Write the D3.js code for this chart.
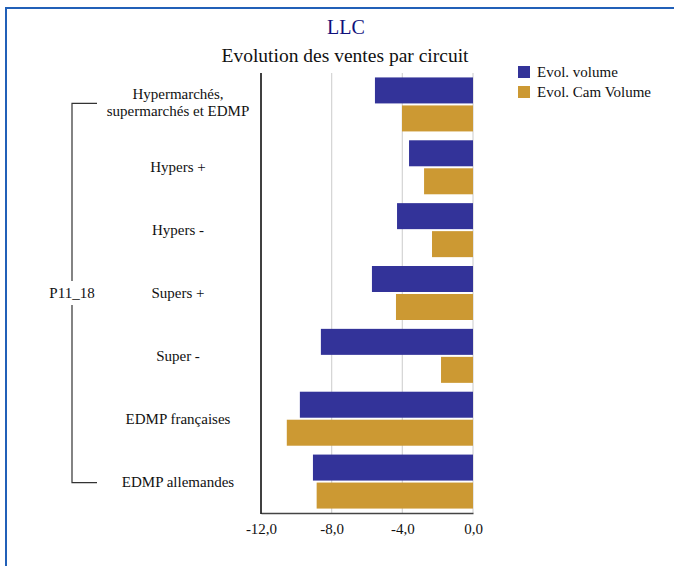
<!DOCTYPE html>
<html>
<head>
<meta charset="utf-8">
<script src="https://cdn.jsdelivr.net/npm/d3@7"></script>
<style>
  body { margin: 0; background: #fff; }
  svg { display: block; }
</style>
</head>
<body>
<div id="chart"></div>
<script>
// données
var categories = [
  ["Hypermarchés,", "supermarchés et EDMP"],
  ["Hypers +"],
  ["Hypers -"],
  ["Supers +"],
  ["Super -"],
  ["EDMP françaises"],
  ["EDMP allemandes"]
];
var seriesNames = ["Evol. volume", "Evol. Cam Volume"];
var evolVolume    = [-5.55, -3.62, -4.30, -5.72, -8.61, -9.80, -9.06];
var evolCamVolume = [-4.02, -2.77, -2.32, -4.36, -1.81, -10.54, -8.85];
var xTicks = [-12, -8, -4, 0];
var groupLabel = "P11_18";

var width = 674, height = 566;
var colors = ["#333399", "#CC9933"];
var font = "'Liberation Serif', 'Times New Roman', serif";

var svg = d3.select("#chart").append("svg")
  .attr("width", width)
  .attr("height", height)
  .style("font-family", font);

// cadre
svg.append("rect")
  .attr("x", 6).attr("y", 8)
  .attr("width", width + 20).attr("height", height + 20)
  .attr("fill", "none")
  .attr("stroke", "#2160b8")
  .attr("stroke-width", 2);

var pLeft = 261, pRight = 473, pTop = 73, pBottom = 513;

var x = d3.scaleLinear().domain([-12, 0]).range([pLeft, pRight]);
var y = d3.scaleBand().domain(d3.range(categories.length)).range([pTop, pBottom]);

var barH = 26, gap = 2;
var off = (y.bandwidth() - (barH * 2 + gap)) / 2;

// titres
svg.append("text")
  .attr("x", 346).attr("y", 34)
  .attr("text-anchor", "middle")
  .attr("font-size", 20)
  .attr("fill", "#10107a")
  .text("LLC");

svg.append("text")
  .attr("x", 345).attr("y", 62)
  .attr("text-anchor", "middle")
  .attr("font-size", 19.5)
  .attr("fill", "#111")
  .text("Evolution des ventes par circuit");

// grille
svg.append("g")
  .selectAll("line")
  .data(xTicks.slice(1))
  .enter()
  .append("line")
  .attr("x1", function(d) { return x(d); })
  .attr("x2", function(d) { return x(d); })
  .attr("y1", pTop)
  .attr("y2", pBottom)
  .attr("stroke", "#d4d4d4")
  .attr("stroke-width", 1.2);

// barres
var series = [evolVolume, evolCamVolume];
series.forEach(function(vals, s) {
  svg.append("g")
    .selectAll("rect")
    .data(vals)
    .enter()
    .append("rect")
    .attr("x", function(d) { return x(d); })
    .attr("y", function(d, i) { return y(i) + off + s * (barH + gap); })
    .attr("width", function(d) { return x(0) - x(d); })
    .attr("height", barH)
    .attr("fill", colors[s]);
});

// axe x
var axisX = d3.axisBottom(x)
  .tickValues(xTicks)
  .tickSize(0)
  .tickPadding(10)
  .tickFormat(function(d) { return d3.format(".1f")(d).replace(".", ",").replace("−", "-"); });

var gx = svg.append("g")
  .attr("transform", "translate(0," + pBottom + ")")
  .call(axisX);
gx.select(".domain").attr("stroke", "#444").attr("stroke-width", 1.5);
gx.selectAll("text")
  .attr("font-family", font)
  .attr("font-size", 15)
  .attr("fill", "#111");

// axe y
svg.append("line")
  .attr("x1", pLeft).attr("x2", pLeft)
  .attr("y1", pTop).attr("y2", pBottom + 1)
  .attr("stroke", "#000")
  .attr("stroke-width", 1.5);

// libellés des catégories
var labelX = 178;
var lab = svg.append("g")
  .selectAll("text")
  .data(categories)
  .enter()
  .append("text")
  .attr("text-anchor", "middle")
  .attr("font-size", 15)
  .attr("fill", "#111")
  .attr("y", function(d, i) {
    return y(i) + y.bandwidth() / 2 + 5 - (d.length - 1) * 10;
  });
lab.selectAll("tspan")
  .data(function(d) { return d; })
  .enter()
  .append("tspan")
  .attr("x", labelX)
  .attr("dy", function(d, j) { return j === 0 ? 0 : 17; })
  .text(function(d) { return d; });

// accolade du groupe
var bx = 72, bx2 = 97;
var yTop = y(0) + y.bandwidth() / 2 - 1;
var yBot = y(categories.length - 1) + y.bandwidth() / 2 + 1;
var yMid = (yTop + yBot) / 2;
var br = svg.append("g").attr("stroke", "#333").attr("stroke-width", 1.2).attr("fill", "none");
br.append("path").attr("d", "M" + bx2 + "," + yTop + "H" + bx + "V" + (yMid - 12));
br.append("path").attr("d", "M" + bx + "," + (yMid + 12) + "V" + yBot + "H" + bx2);

svg.append("text")
  .attr("x", bx).attr("y", yMid + 5)
  .attr("text-anchor", "middle")
  .attr("font-size", 15)
  .attr("fill", "#111")
  .text(groupLabel);

// légende
var leg = svg.append("g")
  .selectAll("g")
  .data(seriesNames)
  .enter()
  .append("g")
  .attr("transform", function(d, i) { return "translate(518," + (66 + i * 20) + ")"; });
leg.append("rect")
  .attr("width", 12).attr("height", 12)
  .attr("fill", function(d, i) { return colors[i]; });
leg.append("text")
  .attr("x", 19).attr("y", 11)
  .attr("font-size", 15)
  .attr("fill", "#111")
  .text(function(d) { return d; });
</script>
</body>
</html>
